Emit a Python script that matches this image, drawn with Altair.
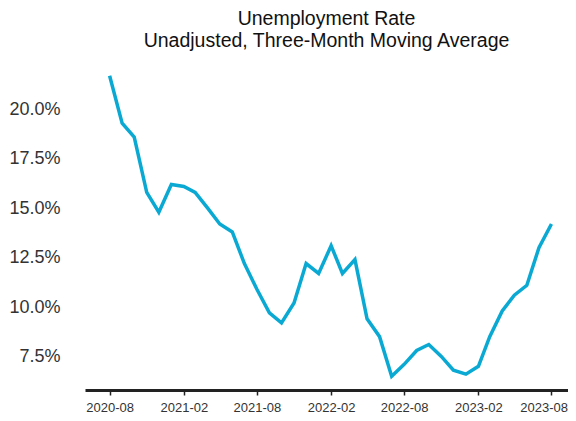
import altair as alt
import pandas as pd

months = [
    "2020-08", "2020-09", "2020-10", "2020-11", "2020-12",
    "2021-01", "2021-02", "2021-03", "2021-04", "2021-05", "2021-06",
    "2021-07", "2021-08", "2021-09", "2021-10", "2021-11", "2021-12",
    "2022-01", "2022-02", "2022-03", "2022-04", "2022-05", "2022-06",
    "2022-07", "2022-08", "2022-09", "2022-10", "2022-11", "2022-12",
    "2023-01", "2023-02", "2023-03", "2023-04", "2023-05", "2023-06",
    "2023-07", "2023-08",
]
rates = [
    21.7, 19.3, 18.6, 15.8, 14.8,
    16.2, 16.1, 15.8, 15.0, 14.2, 13.8,
    12.2, 10.9, 9.7, 9.2, 10.2, 12.2,
    11.7, 13.1, 11.7, 12.4, 9.4, 8.5,
    6.5, 7.1, 7.8, 8.1, 7.5, 6.8,
    6.6, 7.0, 8.5, 9.8, 10.6, 11.1,
    13.0, 14.2,
]
tick_months = ["2020-08", "2021-02", "2021-08", "2022-02", "2022-08", "2023-02", "2023-08"]
y_ticks = [7.5, 10.0, 12.5, 15.0, 17.5, 20.0]

df = pd.DataFrame({"month": pd.to_datetime([m + "-01" for m in months]), "rate": rates})

tick_vals = [alt.DateTime(year=int(m[:4]), month=int(m[5:]), date=1) for m in tick_months]

chart = alt.Chart(df).mark_line(color="#0aa9d3", strokeWidth=3.5).encode(
    x=alt.X(
        "month:T",
        title=None,
        scale=alt.Scale(domain=[alt.DateTime(year=2020, month=6, date=1),
                                alt.DateTime(year=2023, month=9, date=11)]),
        axis=alt.Axis(
            values=tick_vals,
            format="%Y-%m",
            grid=False,
            domainColor="#222222",
            domainWidth=3,
            tickColor="#222222",
            tickWidth=1.5,
            tickSize=5,
            labelFont="Liberation Sans",
            labelFontSize=13,
            labelColor="#333333",
            labelPadding=6,
            labelFlush=20,
            labelFlushOffset=16,
        ),
    ),
    y=alt.Y(
        "rate:Q",
        title=None,
        scale=alt.Scale(domain=[5.8, 22.5], nice=False, zero=False),
        axis=alt.Axis(
            values=y_ticks,
            labelExpr="format(datum.value, '.1f') + '%'",
            grid=False,
            domain=False,
            ticks=False,
            labelFont="Liberation Sans",
            labelFontSize=18,
            labelColor="#333333",
            labelPadding=25,
        ),
    ),
).properties(
    width=483,
    height=330,
    title=alt.TitleParams(
        text=["Unemployment Rate", "Unadjusted, Three-Month Moving Average"],
        font="Liberation Sans",
        fontSize=19.5,
        fontWeight="normal",
        color="#111111",
        anchor="middle",
        offset=9,
        lineHeight=21.5,
    ),
    autosize=alt.AutoSizeParams(type="none"),
    padding={"left": 77, "top": 52, "right": 0, "bottom": 23},
).configure_view(stroke=None)

chart.save("out.html", embed_options={"renderer": "svg", "actions": False})
